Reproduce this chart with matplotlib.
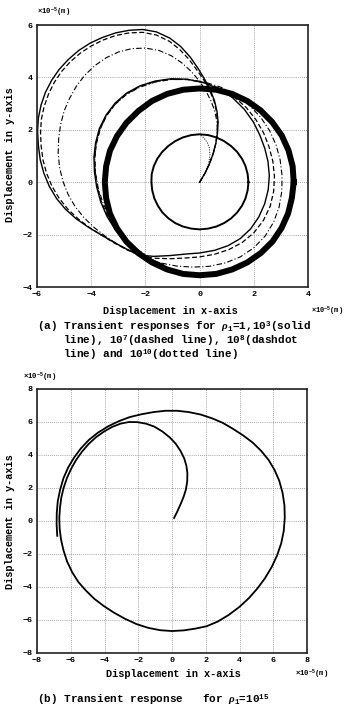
import matplotlib
matplotlib.use("Agg")
import matplotlib.pyplot as plt

plt.rcParams['font.family'] = ['Liberation Mono', 'DejaVu Sans']
plt.rcParams['font.weight'] = 'bold'
plt.rcParams['mathtext.fontset'] = 'custom'
plt.rcParams['mathtext.rm'] = 'Liberation Mono:bold'
plt.rcParams['mathtext.it'] = 'Liberation Serif:bold:italic'
plt.rcParams['mathtext.bf'] = 'Liberation Mono:bold'

# ---- (a) trajectories, units 1e-5 m ----
# inner limit cycle (rho=1)
a_inner_x = [1.80, 1.77, 1.69, 1.56, 1.38, 1.16, 0.90, 0.62, 0.31, 0.00, -0.31, -0.62, -0.90,
             -1.16, -1.38, -1.56, -1.69, -1.77, -1.78, -1.75, -1.67, -1.54, -1.37, -1.15, -0.90,
             -0.62, -0.31, 0.00, 0.31, 0.62, 0.90, 1.16, 1.38, 1.56, 1.69, 1.77, 1.80]
a_inner_y = [0.00, 0.31, 0.62, 0.90, 1.16, 1.38, 1.57, 1.71, 1.80, 1.83, 1.80, 1.71, 1.57,
             1.38, 1.16, 0.90, 0.62, 0.31, 0.00, -0.31, -0.62, -0.90, -1.16, -1.38, -1.56,
             -1.69, -1.77, -1.80, -1.77, -1.69, -1.56, -1.38, -1.16, -0.90, -0.62, -0.31, 0.00]

# outer limit cycle (thick band, rho=10^3)
a_thick_x = [3.47, 3.43, 3.28, 3.03, 2.68, 2.25, 1.76, 1.20, 0.61, 0.00, -0.61, -1.20, -1.76,
             -2.26, -2.70, -3.05, -3.31, -3.45, -3.50, -3.45, -3.31, -3.05, -2.70, -2.26, -1.76,
             -1.20, -0.61, 0.00, 0.61, 1.20, 1.76, 2.26, 2.69, 3.02, 3.26, 3.40, 3.47]
a_thick_y = [0.00, 0.61, 1.21, 1.78, 2.29, 2.74, 3.10, 3.37, 3.53, 3.58, 3.53, 3.37, 3.10,
             2.72, 2.27, 1.76, 1.20, 0.61, 0.00, -0.61, -1.20, -1.76, -2.27, -2.71, -3.06,
             -3.33, -3.50, -3.55, -3.50, -3.33, -3.06, -2.70, -2.26, -1.75, -1.20, -0.61, 0.00]

# transient, solid
a_solid_x = [0.00, 0.20, 0.36, 0.50, 0.60, 0.66, 0.68, 0.64, 0.55, 0.40, 0.20, -0.05, -0.35,
             -0.70, -1.10, -1.60, -2.10, -2.60, -3.10, -3.60, -4.04, -4.46, -4.84, -5.18, -5.46,
             -5.69, -5.85, -5.95, -5.98, -5.95, -5.88, -5.75, -5.55, -5.28, -4.95, -4.55, -4.10,
             -3.65, -3.20, -2.70, -2.20, -1.70, -1.10, -0.50, 0.00, 0.55, 1.05, 1.50, 1.88, 2.18,
             2.40, 2.53, 2.57, 2.52, 2.40, 2.22, 1.98, 1.65, 1.22, 0.72, 0.15, -0.45, -1.05, -1.65,
             -2.20, -2.70, -3.12, -3.45, -3.70, -3.84, -3.90, -3.88, -3.80, -3.65, -3.42, -3.12,
             -2.75, -2.32, -1.85, -1.35]
a_solid_y = [0.00, 0.35, 0.70, 1.10, 1.50, 1.90, 2.30, 2.70, 3.10, 3.50, 3.90, 4.33, 4.78,
             5.18, 5.50, 5.74, 5.83, 5.80, 5.70, 5.52, 5.31, 5.03, 4.69, 4.31, 3.89,
             3.43, 2.95, 2.45, 1.95, 1.40, 0.85, 0.35, -0.15, -0.62, -1.03, -1.40, -1.72,
             -2.00, -2.27, -2.55, -2.78, -2.83, -2.80, -2.74, -2.70, -2.60, -2.42, -2.15, -1.78, -1.33,
             -0.82, -0.28, 0.25, 0.80, 1.30, 1.80, 2.30, 2.78, 3.22, 3.56, 3.80, 3.93, 3.95, 3.86,
             3.68, 3.40, 3.02, 2.57, 2.05, 1.50, 0.95, 0.38, -0.18, -0.75, -1.30, -1.80,
             -2.25, -2.63, -2.92, -3.15]

# transient, dashed
a_dashed_x = [0.00, 0.20, 0.36, 0.50, 0.60, 0.65, 0.66, 0.62, 0.53, 0.37, 0.17, -0.10, -0.40,
              -0.75, -1.12, -1.60, -2.10, -2.60, -3.10, -3.58, -4.00, -4.40, -4.77, -5.10, -5.37,
              -5.58, -5.74, -5.84, -5.87, -5.85, -5.78, -5.65, -5.45, -5.19, -4.87, -4.48, -4.05,
              -3.60, -3.15, -2.68, -2.20, -1.70, -1.10, -0.50, 0.00, 0.55, 1.08, 1.57, 2.00, 2.35,
              2.60, 2.73, 2.76, 2.70, 2.56, 2.36, 2.08, 1.72, 1.27, 0.75, 0.17, -0.45, -1.05, -1.65,
              -2.20, -2.68, -3.10, -3.43, -3.67, -3.81, -3.87, -3.85, -3.77, -3.62, -3.40, -3.10,
              -2.73, -2.30, -1.83, -1.33]
a_dashed_y = [0.00, 0.35, 0.70, 1.10, 1.50, 1.90, 2.30, 2.70, 3.10, 3.50, 3.88, 4.28, 4.70,
              5.08, 5.38, 5.62, 5.72, 5.70, 5.60, 5.42, 5.20, 4.93, 4.60, 4.22, 3.80,
              3.35, 2.88, 2.40, 1.92, 1.40, 0.85, 0.35, -0.15, -0.60, -1.02, -1.40, -1.74,
              -2.03, -2.32, -2.58, -2.80, -2.90, -2.92, -2.89, -2.85, -2.75, -2.57, -2.30, -1.93, -1.46,
              -0.92, -0.35, 0.22, 0.80, 1.35, 1.88, 2.38, 2.85, 3.26, 3.58, 3.80, 3.92, 3.93, 3.84,
              3.66, 3.38, 3.00, 2.55, 2.03, 1.48, 0.93, 0.36, -0.20, -0.76, -1.30, -1.80,
              -2.25, -2.63, -2.93, -3.17]

# transient, dashdot
a_dashdot_x = [0.00, 0.20, 0.36, 0.50, 0.60, 0.65, 0.64, 0.56, 0.44, 0.25, 0.00, -0.30, -0.65,
               -1.05, -1.50, -2.00, -2.50, -3.00, -3.45, -3.87, -4.24, -4.55, -4.80, -5.00, -5.13,
               -5.20, -5.22, -5.17, -5.05, -4.86, -4.60, -4.27, -3.89, -3.47, -3.01, -2.52, -2.00,
               -1.45, -0.85, -0.25, 0.35, 0.95, 1.50, 2.00, 2.42, 2.73, 2.93, 3.03, 3.04, 2.97, 2.82,
               2.58, 2.25, 1.85, 1.35, 0.80, 0.20, -0.42, -1.05, -1.65, -2.20, -2.70, -3.12, -3.45,
               -3.68, -3.82, -3.87, -3.84, -3.74, -3.57, -3.33, -3.02, -2.65, -2.22, -1.75, -1.25]
a_dashdot_y = [0.00, 0.35, 0.70, 1.10, 1.50, 1.90, 2.30, 2.70, 3.05, 3.45, 3.85, 4.22, 4.55,
               4.83, 5.03, 5.12, 5.10, 4.97, 4.75, 4.45, 4.08, 3.66, 3.20, 2.72, 2.20,
               1.67, 1.12, 0.58, 0.05, -0.45, -0.92, -1.35, -1.73, -2.07, -2.38, -2.65, -2.90,
               -3.08, -3.20, -3.24, -3.21, -3.08, -2.85, -2.50, -2.05, -1.52, -0.95, -0.35, 0.25, 0.85, 1.42,
               1.97, 2.48, 2.92, 3.32, 3.62, 3.82, 3.92, 3.92, 3.82, 3.63, 3.35, 2.97, 2.52,
               2.01, 1.46, 0.90, 0.33, -0.23, -0.78, -1.30, -1.79, -2.23, -2.62, -2.95, -3.20]

# transient, dotted
a_dotted_x = [0.00, 0.12, 0.24, 0.33, 0.38, 0.36, 0.28, 0.15, 0.00]
a_dotted_y = [0.00, 0.20, 0.45, 0.72, 1.02, 1.30, 1.52, 1.70, 1.82]

# ---- (b) trajectory ----
b_x = [0.12, 0.30, 0.50, 0.68, 0.82, 0.90, 0.91, 0.85, 0.72, 0.50, 0.22, -0.15, -0.58, -1.05,
       -1.55, -2.05, -2.55, -3.05, -3.55, -4.03, -4.50, -4.93, -5.32, -5.67, -5.97, -6.22, -6.42,
       -6.56, -6.64, -6.68, -6.66, -6.58, -6.44, -6.22, -5.92, -5.55, -5.10, -4.60, -4.05, -3.45,
       -2.80, -2.10, -1.40, -0.70, 0.00, 0.70, 1.40, 2.05, 2.70, 3.35, 3.99, 4.55, 5.05, 5.50,
       5.90, 6.22, 6.47, 6.62, 6.68, 6.66, 6.55, 6.35, 6.07, 5.72, 5.28, 4.78, 4.22, 3.62, 3.00,
       2.38, 1.70, 1.00, 0.30, -0.40, -1.10, -1.80, -2.50, -3.15, -3.78, -4.38, -4.92, -5.40,
       -5.80, -6.15, -6.43, -6.63, -6.77, -6.83, -6.84, -6.80]
b_y = [0.18, 0.55, 1.00, 1.45, 1.90, 2.40, 2.90, 3.35, 3.80, 4.25, 4.68, 5.08, 5.43, 5.72,
       5.90, 5.99, 6.00, 5.90, 5.70, 5.42, 5.08, 4.68, 4.22, 3.72, 3.18, 2.62, 2.02,
       1.42, 0.80, 0.18, -0.45, -1.10, -1.75, -2.45, -3.10, -3.70, -4.22, -4.72, -5.15, -5.55,
       -5.92, -6.25, -6.48, -6.62, -6.67, -6.63, -6.52, -6.38, -6.10, -5.70, -5.21, -4.68, -4.10, -3.48,
       -2.80, -2.10, -1.35, -0.60, 0.20, 0.95, 1.70, 2.45, 3.10, 3.70, 4.25, 4.75, 5.18, 5.58, 5.95,
       6.22, 6.45, 6.60, 6.68, 6.68, 6.60, 6.47, 6.30, 6.05, 5.74, 5.36, 4.92, 4.40,
       3.85, 3.25, 2.60, 1.90, 1.20, 0.50, -0.20, -0.90]

a_xticks = [-6, -4, -2, 0, 2, 4]
a_yticks = [-4, -2, 0, 2, 4, 6]
b_ticks = [-8, -6, -4, -2, 0, 2, 4, 6, 8]

fig = plt.figure(figsize=(3.44, 7.11), dpi=100)
ax1 = fig.add_axes([0.1076, 0.5963, 0.788, 0.3685])
ax2 = fig.add_axes([0.1076, 0.0816, 0.785, 0.3713])

ax1.plot(a_thick_x, a_thick_y, color='black', lw=4.3, solid_joinstyle='round')
ax1.plot(a_inner_x, a_inner_y, color='black', lw=1.4)
ax1.plot(a_solid_x, a_solid_y, color='black', lw=1.0)
ax1.plot(a_dashed_x, a_dashed_y, color='black', lw=0.9, dashes=(4, 2))
ax1.plot(a_dashdot_x, a_dashdot_y, color='black', lw=0.8, dashes=(5, 2, 1, 2))
ax1.plot(a_dotted_x, a_dotted_y, color='black', lw=0.7, dashes=(1, 1.5))
ax1.set_xlim(-6, 4)
ax1.set_ylim(-4, 6)
ax1.set_xticks(a_xticks)
ax1.set_yticks(a_yticks)

ax2.plot(b_x, b_y, color='black', lw=1.3)
ax2.set_xlim(-8, 8)
ax2.set_ylim(-8, 8)
ax2.set_xticks(b_ticks)
ax2.set_yticks(b_ticks)

for ax in (ax1, ax2):
    ax.grid(True, color='#888888', linestyle=(0, (1, 1.5)), lw=0.6)
    ax.tick_params(length=0, labelsize=6, pad=3)
    for s in ax.spines.values():
        s.set_linewidth(1.2)
        s.set_color('#222222')

lab = dict(fontsize=7.4, fontweight='bold')
unit = r'$\times$10$^{-5}$(m)'

# (a) labels
fig.text(0.108, 0.983, unit, fontsize=5.2, va='center', ha='left')
fig.text(0.905, 0.5626, unit, fontsize=5.0, va='center', ha='left')
fig.text(0.494, 0.5626, 'Displacement in x-axis', ha='center', va='center', **lab)
fig.text(0.029, 0.782, 'Displacement in y-axis', rotation=90, ha='center', va='center', **lab)
cap = dict(fontsize=7.9, fontweight='bold', va='center', ha='left')
fig.text(0.108, 0.5405, r'(a) Transient responses for $\it{\rho}_1$=1,10$^3$(solid', **cap)
fig.text(0.183, 0.5204, r'line), 10$^7$(dashed line), 10$^8$(dashdot', **cap)
fig.text(0.183, 0.5007, r'line) and 10$^{10}$(dotted line)', **cap)

# (b) labels
fig.text(0.067, 0.47, unit, fontsize=5.2, va='center', ha='left')
fig.text(0.858, 0.052, unit, fontsize=5.2, va='center', ha='left')
fig.text(0.503, 0.052, 'Displacement in x-axis', ha='center', va='center', **lab)
fig.text(0.029, 0.267, 'Displacement in y-axis', rotation=90, ha='center', va='center', **lab)
fig.text(0.108, 0.0155, r'(b) Transient response   for $\it{\rho}_1$=10$^{15}$', **cap)

fig.savefig('out.png', dpi=100)
